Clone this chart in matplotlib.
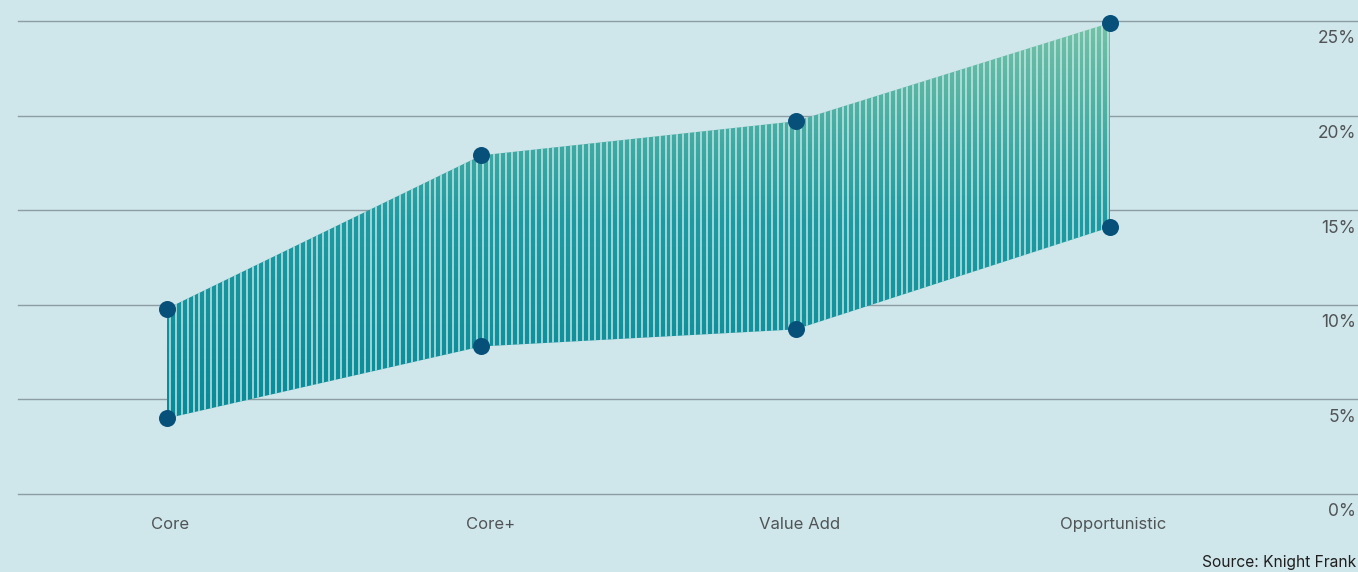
import matplotlib.pyplot as plt
import numpy as np
from matplotlib.colors import LinearSegmentedColormap
from matplotlib.patches import Polygon
from matplotlib.transforms import blended_transform_factory

# Expected return ranges by strategy (%)
categories = ['Core', 'Core+', 'Value Add', 'Opportunistic']
low = [4.0, 7.8, 8.7, 14.1]
high = [9.8, 17.9, 19.7, 24.9]
y_ticks = [0, 5, 10, 15, 20, 25]

BG = '#cfe6ea'
GRID = '#8c9ea4'
DOT = '#07507a'
TEXT = '#505456'

plt.rcParams['font.family'] = ['Inter', 'DejaVu Sans']

W, H = 1358, 572
fig = plt.figure(figsize=(W / 100, H / 100), dpi=100, facecolor=BG)
ax = fig.add_axes([18 / W, (H - 494) / H, 1 - 18 / W, 473 / H])
ax.set_facecolor(BG)
for s in ax.spines.values():
    s.set_visible(False)
ax.set_xticks([])
ax.set_yticks([])

px = 314.33  # pixels per category step
xlim = (-149 / px, 3 + 248 / px)

for t in y_ticks:
    ax.axhline(t, color=GRID, lw=1.0, zorder=1, clip_on=False)

x = np.arange(len(categories))

# band polygon
verts = list(zip(x, high)) + list(zip(x[::-1], low[::-1]))
poly = Polygon(verts, closed=True, facecolor='none', edgecolor='none')
ax.add_patch(poly)

# vertical gradient fill clipped to the band
cmap = LinearSegmentedColormap.from_list('band', ['#088a99', '#1e9ba2', '#74c2a5'])
grad = np.linspace(0, 1, 256).reshape(-1, 1)
im = ax.imshow(grad, cmap=cmap, origin='lower', aspect='auto',
               extent=[x[0], x[-1], min(low), max(high)], zorder=2,
               interpolation='bilinear')
im.set_clip_path(poly)

# light vertical stripes
step = 5.9 / px
xs = np.arange(x[0] + step / 2, x[-1], step)
vl = ax.vlines(xs, 0, 25, color='#c6e8e8', lw=1.45, alpha=0.75, zorder=3)
vl.set_clip_path(poly)

ax.set_xlim(*xlim)
ax.set_ylim(0, 25)

ax.scatter(x, high, s=150, color=DOT, zorder=5, clip_on=False, linewidths=0)
ax.scatter(x, low, s=150, color=DOT, zorder=5, clip_on=False, linewidths=0)

# category labels
label_dx = [3, 9, 4, 3]
for xi, name, dx in zip(x, categories, label_dx):
    ax.text(xi + dx / px, -1.6, name, ha='center', va='center',
            fontsize=12, color=TEXT)

# y labels on the right, below each gridline
tr = blended_transform_factory(fig.transFigure, ax.transData)
for t in y_ticks:
    ax.text(1356 / W, t - 0.5, f'{t}%', transform=tr, ha='right', va='top',
            fontsize=12.5, color=TEXT, clip_on=False)

fig.text(1356 / W, 1 - 563 / H, 'Source: Knight Frank', ha='right', va='center',
         fontsize=11.2, color='#1e1e1e')

fig.savefig('out.png', dpi=100, facecolor=BG)
